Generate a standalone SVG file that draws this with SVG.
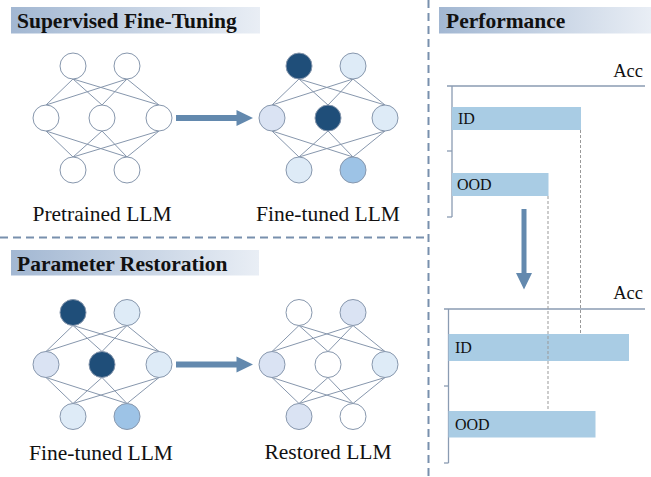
<svg xmlns="http://www.w3.org/2000/svg" width="651" height="477" viewBox="0 0 651 477">
<defs>
<linearGradient id="band" x1="0" y1="0" x2="1" y2="0">
<stop offset="0" stop-color="#a2b7d2"/>
<stop offset="1" stop-color="#e9eef5"/>
</linearGradient>
<g id="net">
<g class="edge">
<line x1="73" y1="79" x2="46" y2="105"/>
<line x1="73" y1="79" x2="102" y2="105"/>
<line x1="73" y1="79" x2="159" y2="105"/>
<line x1="127" y1="79" x2="46" y2="105"/>
<line x1="127" y1="79" x2="102" y2="105"/>
<line x1="127" y1="79" x2="159" y2="105"/>
<line x1="46" y1="131" x2="73" y2="157"/>
<line x1="46" y1="131" x2="127" y2="157"/>
<line x1="102" y1="131" x2="73" y2="157"/>
<line x1="102" y1="131" x2="127" y2="157"/>
<line x1="159" y1="131" x2="73" y2="157"/>
<line x1="159" y1="131" x2="127" y2="157"/>
</g>
</g>
</defs>
<style>
.edge line{stroke:#8797ad;stroke-width:1}
.n{stroke:#8797ad;stroke-width:1}
.w{fill:#ffffff}
.d{fill:#1f4e79}
.l1{fill:#dae3f3}
.l2{fill:#deebf7}
.m{fill:#9dc3e6}
.hd{font-family:"Liberation Serif","Times New Roman",serif;font-weight:bold;font-size:21.5px;fill:#111}
.lab{font-family:"Liberation Serif","Times New Roman",serif;font-size:21.5px;fill:#111}
.sm{font-family:"Liberation Serif","Times New Roman",serif;font-size:16px;fill:#111}
.acc{font-family:"Liberation Serif","Times New Roman",serif;font-size:18.5px;fill:#111}
.sep{stroke:#7890ad;stroke-width:2;stroke-dasharray:8 5;fill:none}
.ax{stroke:#8a9bb2;stroke-width:1.3;fill:none}
.bar{fill:#a9cce4}
.gd{stroke:#999;stroke-width:1;stroke-dasharray:3 2;fill:none}
.arr{fill:#6389ae}
</style>

<g id="separators">
<line class="sep" x1="0" y1="237.5" x2="426" y2="237.5"/>
<line class="sep" x1="428.5" y1="0" x2="428.5" y2="477"/>
</g>

<g id="header-sft">
<rect x="11" y="7" width="249" height="26.5" fill="url(#band)"/>
<text class="hd" x="17" y="28">Supervised Fine-Tuning</text>
</g>
<g id="header-pr">
<rect x="11" y="250" width="248" height="25.5" fill="url(#band)"/>
<text class="hd" x="17" y="270.5">Parameter Restoration</text>
</g>
<g id="header-perf">
<rect x="439" y="7" width="212" height="26.5" fill="url(#band)"/>
<text class="hd" x="446" y="28">Performance</text>
</g>

<g id="pretrained">
<use href="#net"/>
<circle class="n w" cx="73" cy="66" r="13"/>
<circle class="n w" cx="127" cy="66" r="13"/>
<circle class="n w" cx="46" cy="118" r="13"/>
<circle class="n w" cx="102" cy="118" r="13"/>
<circle class="n w" cx="159" cy="118" r="13"/>
<circle class="n w" cx="73" cy="170" r="13"/>
<circle class="n w" cx="127" cy="170" r="13"/>
<text class="lab" x="102" y="221" text-anchor="middle">Pretrained LLM</text>
</g>

<g id="finetuned">
<use href="#net" x="226"/>
<circle class="n d" cx="299" cy="66" r="13"/>
<circle class="n l2" cx="353" cy="66" r="13"/>
<circle class="n l1" cx="272" cy="118" r="13"/>
<circle class="n d" cx="328" cy="118" r="13"/>
<circle class="n l2" cx="385" cy="118" r="13"/>
<circle class="n l2" cx="299" cy="170" r="13"/>
<circle class="n m" cx="353" cy="170" r="13"/>
<text class="lab" x="328" y="220.5" text-anchor="middle">Fine-tuned LLM</text>
</g>

<g id="finetuned2">
<use href="#net" y="246.5"/>
<circle class="n d" cx="73" cy="312.5" r="13"/>
<circle class="n l2" cx="127" cy="312.5" r="13"/>
<circle class="n l1" cx="46" cy="364.5" r="13"/>
<circle class="n d" cx="102" cy="364.5" r="13"/>
<circle class="n l2" cx="159" cy="364.5" r="13"/>
<circle class="n l2" cx="73" cy="416.5" r="13"/>
<circle class="n m" cx="127" cy="416.5" r="13"/>
<text class="lab" x="101" y="460" text-anchor="middle">Fine-tuned LLM</text>
</g>

<g id="restored">
<use href="#net" x="226" y="246.5"/>
<circle class="n w" cx="299" cy="312.5" r="13"/>
<circle class="n l1" cx="353" cy="312.5" r="13"/>
<circle class="n l1" cx="272" cy="364.5" r="13"/>
<circle class="n w" cx="328" cy="364.5" r="13"/>
<circle class="n l2" cx="385" cy="364.5" r="13"/>
<circle class="n l1" cx="299" cy="416.5" r="13"/>
<circle class="n w" cx="353" cy="416.5" r="13"/>
<text class="lab" x="328" y="459" text-anchor="middle">Restored LLM</text>
</g>

<g id="connectors">
<polygon class="arr" points="176,115 236.5,115 236.5,110 253,118 236.5,126 236.5,121 176,121"/>
<polygon class="arr" points="176,361.5 236.5,361.5 236.5,356.5 253,364.5 236.5,372.5 236.5,367.5 176,367.5"/>
<polygon class="arr" points="521.5,209 526.5,209 526.5,273 532,273 524,289.5 516,273 521.5,273"/>
</g>

<g id="chart-before">
<line class="ax" x1="447" y1="86" x2="645" y2="86"/>
<line class="ax" x1="452" y1="86" x2="452" y2="217"/>
<line class="ax" x1="447" y1="151" x2="452" y2="151"/>
<line class="ax" x1="447" y1="217" x2="452" y2="217"/>
<text class="acc" x="643" y="77" text-anchor="end">Acc</text>
<rect class="bar" x="452" y="107" width="129" height="23"/>
<rect class="bar" x="452" y="173" width="96.5" height="23"/>
<text class="sm" x="458" y="124">ID</text>
<text class="sm" x="457" y="190">OOD</text>
</g>

<g id="chart-after">
<line class="ax" x1="444" y1="309" x2="645" y2="309"/>
<line class="ax" x1="448.5" y1="309" x2="448.5" y2="463"/>
<line class="ax" x1="444" y1="386" x2="448.5" y2="386"/>
<line class="ax" x1="444" y1="463" x2="448.5" y2="463"/>
<text class="acc" x="643" y="298.5" text-anchor="end">Acc</text>
<rect class="bar" x="448.5" y="334" width="180.5" height="27"/>
<rect class="bar" x="448.5" y="411" width="147" height="26.5"/>
<text class="sm" x="455" y="353">ID</text>
<text class="sm" x="455" y="430">OOD</text>
</g>

<g id="guides">
<line class="gd" x1="580.5" y1="130" x2="580.5" y2="334"/>
<line class="gd" x1="548" y1="196" x2="548" y2="409"/>
</g>
</svg>
